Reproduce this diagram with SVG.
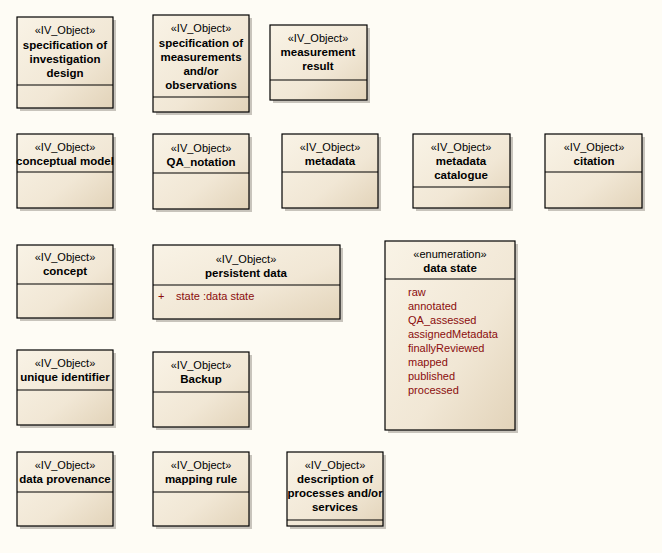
<svg xmlns="http://www.w3.org/2000/svg" width="662" height="553" viewBox="0 0 662 553">
<defs>
<linearGradient id="g" x1="0" y1="0" x2="1" y2="1">
<stop offset="0" stop-color="#f9f3e6"/>
<stop offset="0.6" stop-color="#f1e7d5"/>
<stop offset="1" stop-color="#e2d3b9"/>
</linearGradient>
<style>
.b{fill:url(#g);stroke:#000;stroke-width:1.2}
.s{fill:#b0aca4;opacity:0.7}
.d{stroke:#000;stroke-width:1.2}
text{font-family:"Liberation Sans",Arial,sans-serif;font-size:11px;fill:#000;text-anchor:middle}
.n{font-weight:bold;font-size:11.5px}
.a{fill:#8b0d0d;text-anchor:start}
</style>
</defs>
<rect width="662" height="553" fill="#fefcf5"/>
<g id="connectors"/>
<g id="n1"><rect class="s" x="20" y="20" width="96" height="91"/><rect class="b" x="17" y="17" width="96" height="91"/><line class="d" x1="17" y1="85" x2="113" y2="85"/>
<text x="65" y="34">«IV_Object»</text><text class="n" x="65" y="49">specification of</text><text class="n" x="65" y="63">investigation</text><text class="n" x="65" y="77">design</text></g>
<g id="n2"><rect class="s" x="156" y="18" width="96" height="97"/><rect class="b" x="153" y="15" width="96" height="97"/><line class="d" x1="153" y1="97" x2="249" y2="97"/>
<text x="201" y="32">«IV_Object»</text><text class="n" x="201" y="47">specification of</text><text class="n" x="201" y="61">measurements</text><text class="n" x="201" y="75">and/or</text><text class="n" x="201" y="89">observations</text></g>
<g id="n3"><rect class="s" x="273" y="28" width="97" height="75"/><rect class="b" x="270" y="25" width="97" height="75"/><line class="d" x1="270" y1="80" x2="367" y2="80"/>
<text x="318" y="42">«IV_Object»</text><text class="n" x="318" y="56">measurement</text><text class="n" x="318" y="70">result</text></g>
<g id="n4"><rect class="s" x="20" y="137" width="96" height="74"/><rect class="b" x="17" y="134" width="96" height="74"/><line class="d" x1="17" y1="172" x2="113" y2="172"/>
<text x="65" y="151">«IV_Object»</text><text class="n" x="65" y="165">conceptual model</text></g>
<g id="n5"><rect class="s" x="156" y="137" width="96" height="75"/><rect class="b" x="153" y="134" width="96" height="75"/><line class="d" x1="153" y1="173" x2="249" y2="173"/>
<text x="201" y="152">«IV_Object»</text><text class="n" x="201" y="166">QA_notation</text></g>
<g id="n6"><rect class="s" x="285" y="137" width="96" height="74"/><rect class="b" x="282" y="134" width="96" height="74"/><line class="d" x1="282" y1="172" x2="378" y2="172"/>
<text x="330" y="151">«IV_Object»</text><text class="n" x="330" y="165">metadata</text></g>
<g id="n7"><rect class="s" x="416" y="137" width="97" height="74"/><rect class="b" x="413" y="134" width="97" height="74"/><line class="d" x1="413" y1="187" x2="510" y2="187"/>
<text x="461" y="151">«IV_Object»</text><text class="n" x="461" y="165">metadata</text><text class="n" x="461" y="179">catalogue</text></g>
<g id="n8"><rect class="s" x="548" y="137" width="97" height="74"/><rect class="b" x="545" y="134" width="97" height="74"/><line class="d" x1="545" y1="172" x2="642" y2="172"/>
<text x="594" y="151">«IV_Object»</text><text class="n" x="594" y="165">citation</text></g>
<g id="n9"><rect class="s" x="20" y="248" width="96" height="73"/><rect class="b" x="17" y="245" width="96" height="73"/><line class="d" x1="17" y1="284" x2="113" y2="284"/>
<text x="65" y="261">«IV_Object»</text><text class="n" x="65" y="275">concept</text></g>
<g id="n10"><rect class="s" x="156" y="248" width="187" height="74"/><rect class="b" x="153" y="245" width="187" height="74"/><line class="d" x1="153" y1="285" x2="340" y2="285"/>
<text x="246" y="263">«IV_Object»</text><text class="n" x="246" y="277">persistent data</text>
<text class="a" x="158" y="300">+</text><text class="a" x="176" y="300">state  :data state</text></g>
<g id="n11"><rect class="s" x="388" y="244" width="130" height="189"/><rect class="b" x="385" y="241" width="130" height="189"/><line class="d" x1="385" y1="279" x2="515" y2="279"/>
<text x="450" y="258">«enumeration»</text><text class="n" x="450" y="272">data state</text>
<text class="a" x="408" y="296">raw</text><text class="a" x="408" y="310">annotated</text><text class="a" x="408" y="324">QA_assessed</text><text class="a" x="408" y="338">assignedMetadata</text><text class="a" x="408" y="352">finallyReviewed</text><text class="a" x="408" y="366">mapped</text><text class="a" x="408" y="380">published</text><text class="a" x="408" y="394">processed</text></g>
<g id="n12"><rect class="s" x="20" y="353" width="96" height="75"/><rect class="b" x="17" y="350" width="96" height="75"/><line class="d" x1="17" y1="390" x2="113" y2="390"/>
<text x="65" y="367">«IV_Object»</text><text class="n" x="65" y="381">unique identifier</text></g>
<g id="n13"><rect class="s" x="156" y="355" width="96" height="75"/><rect class="b" x="153" y="352" width="96" height="75"/><line class="d" x1="153" y1="392" x2="249" y2="392"/>
<text x="201" y="369">«IV_Object»</text><text class="n" x="201" y="383">Backup</text></g>
<g id="n14"><rect class="s" x="20" y="455" width="96" height="74"/><rect class="b" x="17" y="452" width="96" height="74"/><line class="d" x1="17" y1="492" x2="113" y2="492"/>
<text x="65" y="469">«IV_Object»</text><text class="n" x="65" y="483">data provenance</text></g>
<g id="n15"><rect class="s" x="156" y="455" width="96" height="74"/><rect class="b" x="153" y="452" width="96" height="74"/><line class="d" x1="153" y1="492" x2="249" y2="492"/>
<text x="201" y="469">«IV_Object»</text><text class="n" x="201" y="483">mapping rule</text></g>
<g id="n16"><rect class="s" x="290" y="455" width="96" height="74"/><rect class="b" x="287" y="452" width="96" height="74"/><line class="d" x1="287" y1="520" x2="383" y2="520"/>
<text x="335" y="469">«IV_Object»</text><text class="n" x="335" y="483">description of</text><text class="n" x="335" y="497">processes and/or</text><text class="n" x="335" y="511">services</text></g>
</svg>
